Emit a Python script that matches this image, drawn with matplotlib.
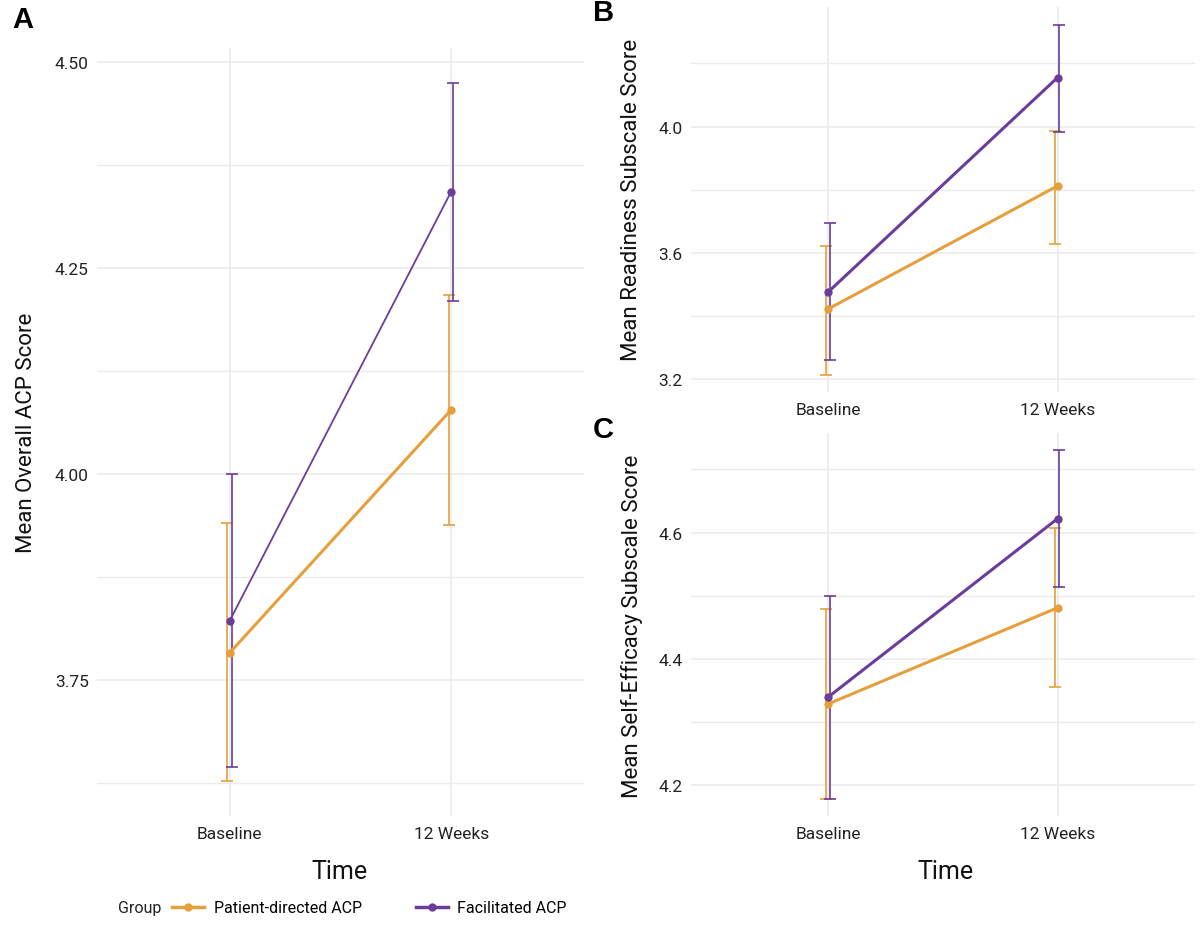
import numpy as np
import matplotlib
matplotlib.use("Agg")
import matplotlib.pyplot as plt
from matplotlib.lines import Line2D
from matplotlib.ticker import FixedLocator, FormatStrFormatter

plt.rcParams['font.family'] = ['Roboto', 'DejaVu Sans']

pd_color = "#E5A03D"
fac_color = "#6B3D9A"
grid_color = "#EBEBEB"

time_labels = ["Baseline", "12 Weeks"]
groups = ["Patient-directed ACP", "Facilitated ACP"]

# Panel A: overall ACP score (mean, lower, upper)
overall_pd_mean = [3.783, 4.078]
overall_pd_lo = [3.627, 3.938]
overall_pd_hi = [3.940, 4.217]
overall_fac_mean = [3.822, 4.343]
overall_fac_lo = [3.644, 4.210]
overall_fac_hi = [4.000, 4.475]

# Panel B: readiness subscale
ready_pd_mean = [3.423, 3.812]
ready_pd_lo = [3.215, 3.628]
ready_pd_hi = [3.623, 3.987]
ready_fac_mean = [3.477, 4.155]
ready_fac_lo = [3.261, 3.984]
ready_fac_hi = [3.695, 4.323]

# Panel C: self-efficacy subscale
eff_pd_mean = [4.329, 4.481]
eff_pd_lo = [4.179, 4.355]
eff_pd_hi = [4.479, 4.607]
eff_fac_mean = [4.340, 4.622]
eff_fac_lo = [4.179, 4.514]
eff_fac_hi = [4.499, 4.730]

W, H = 1200, 928
fig = plt.figure(figsize=(W / 100, H / 100), dpi=100)


def px_axes(left, top, right, bottom):
    return fig.add_axes([left / W, 1 - bottom / H, (right - left) / W, (bottom - top) / H])


def draw_panel(ax, pd_stats, fac_stats, major, minor, fmt, fac_lw):
    x = np.arange(len(time_labels))
    ax.set_axisbelow(True)
    for series, color, dx, lw in [(pd_stats, pd_color, -0.012, 2.2),
                                  (fac_stats, fac_color, 0.008, fac_lw)]:
        mean, lo, hi = (np.array(s) for s in series)
        ax.errorbar(x + dx, mean, yerr=[mean - lo, hi - mean], fmt='none',
                    ecolor=color, elinewidth=1.2, capsize=4, capthick=1.2, zorder=2)
        ax.plot(x, mean, color=color, lw=lw, marker='o', ms=5, zorder=3)
    all_lo = min(pd_stats[1] + fac_stats[1])
    all_hi = max(pd_stats[2] + fac_stats[2])
    pad = 0.05 * (all_hi - all_lo)
    ax.set_ylim(all_lo - pad, all_hi + pad)
    ax.set_xlim(-0.6, 1.6)
    ax.set_xticks(x)
    ax.set_xticklabels(time_labels, fontsize=12.5, color="#222222")
    ax.yaxis.set_major_locator(FixedLocator(major))
    ax.yaxis.set_minor_locator(FixedLocator(minor))
    ax.yaxis.set_major_formatter(FormatStrFormatter(fmt))
    ax.tick_params(axis='y', labelsize=12.5, labelcolor="#222222", pad=6)
    ax.tick_params(axis='x', pad=7)
    ax.tick_params(which='both', length=0)
    ax.grid(True, which='major', color=grid_color, lw=1.2)
    ax.grid(True, which='minor', axis='y', color=grid_color, lw=1.0)
    for s in ax.spines.values():
        s.set_visible(False)


axA = px_axes(97, 49, 584, 817)
draw_panel(axA, (overall_pd_mean, overall_pd_lo, overall_pd_hi),
           (overall_fac_mean, overall_fac_lo, overall_fac_hi),
           [3.75, 4.00, 4.25, 4.50], [3.625, 3.875, 4.125, 4.375], '%.2f', 1.3)

axB = px_axes(691, 8, 1195, 393)
draw_panel(axB, (ready_pd_mean, ready_pd_lo, ready_pd_hi),
           (ready_fac_mean, ready_fac_lo, ready_fac_hi),
           [3.2, 3.6, 4.0], [3.4, 3.8, 4.2], '%.1f', 2.2)

axC = px_axes(691, 434, 1195, 817)
draw_panel(axC, (eff_pd_mean, eff_pd_lo, eff_pd_hi),
           (eff_fac_mean, eff_fac_lo, eff_fac_hi),
           [4.2, 4.4, 4.6], [4.3, 4.5, 4.7], '%.1f', 2.2)

# panel letters
for letter, xp, yp in [("A", 12, 20), ("B", 593, 13), ("C", 593, 430)]:
    fig.text(xp / W, 1 - yp / H, letter, fontsize=21, fontweight='bold',
             va='center', ha='left', family=['Liberation Sans', 'DejaVu Sans'])

# axis titles
fig.text(27 / W, 1 - 433 / H, "Mean Overall ACP Score", rotation=90,
         ha='center', va='center', fontsize=16, color="#111111")
fig.text(632 / W, 1 - 200 / H, "Mean Readiness Subscale Score", rotation=90,
         ha='center', va='center', fontsize=16, color="#111111")
fig.text(632 / W, 1 - 626 / H, "Mean Self-Efficacy Subscale Score", rotation=90,
         ha='center', va='center', fontsize=16, color="#111111")
fig.text(340 / W, 1 - 872 / H, "Time", ha='center', va='center', fontsize=18, color="#111111")
fig.text(945 / W, 1 - 872 / H, "Time", ha='center', va='center', fontsize=18, color="#111111")

# legend
fig.text(118 / W, 1 - 909 / H, "Group", ha='left', va='center', fontsize=11.5, color="#222222")
handles = [Line2D([], [], color=pd_color, lw=2.5, marker='o', ms=5),
           Line2D([], [], color=fac_color, lw=2.5, marker='o', ms=5)]
fig.legend(handles, groups, loc='center left', bbox_to_anchor=(172 / W, 1 - 909 / H),
           ncol=2, frameon=False, fontsize=11.5, handlelength=2.0, handletextpad=0.6,
           columnspacing=3.4, borderpad=0, borderaxespad=0)

fig.savefig("out.png", dpi=100)
